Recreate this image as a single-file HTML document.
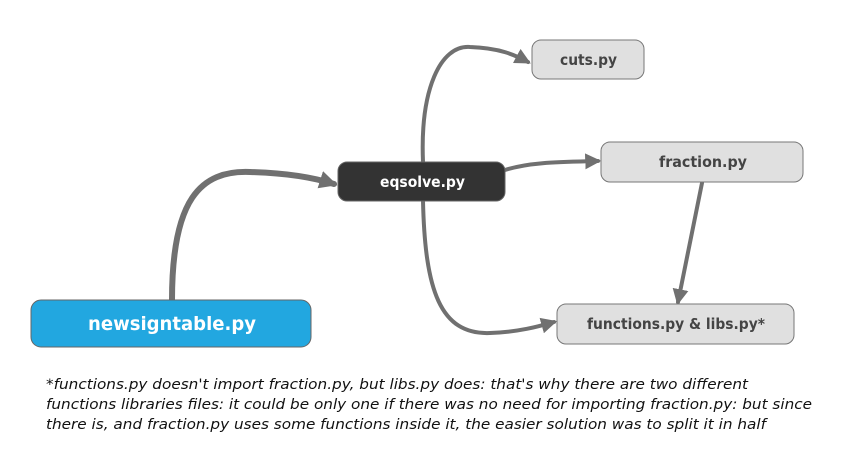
<!DOCTYPE html>
<html><head><meta charset="utf-8"><style>
body{margin:0;background:#fff;}
svg{display:block;}
.t{font-family:"DejaVu Sans","Liberation Sans",sans-serif;font-weight:bold;}
.n{font-family:"DejaVu Sans","Liberation Sans",sans-serif;font-style:italic;font-size:14.5px;fill:#111;}
</style></head><body>
<svg width="846" height="450" viewBox="0 0 846 450" xmlns="http://www.w3.org/2000/svg">
<defs>
<marker id="a" viewBox="0 0 10 10" refX="8" refY="5" markerWidth="4" markerHeight="4" orient="auto" markerUnits="strokeWidth"><path d="M0,0 L10,5 L0,10 z" fill="#707070"/></marker>
<marker id="b" viewBox="0 0 10 10" refX="8" refY="5" markerWidth="3" markerHeight="3" orient="auto" markerUnits="strokeWidth"><path d="M0,0 L10,5 L0,10 z" fill="#707070"/></marker>
</defs>
<g fill="none" stroke="#707070" stroke-linecap="round">
<path d="M172,300 C172,200 200,170 250,172 C290,173 315,178 334,184" stroke-width="6" marker-end="url(#b)"/>
<path d="M423,162 C420,90 440,45 470,47 C500,48 515,55 528,62" stroke-width="4" marker-end="url(#a)"/>
<path d="M423,201 C425,290 440,335 490,333 C520,332 540,326 554,322" stroke-width="4" marker-end="url(#a)"/>
<path d="M505,170 C530,162 560,162 598,161" stroke-width="4" marker-end="url(#a)"/>
<path d="M702,183 L678,302" stroke-width="4" marker-end="url(#a)"/>
</g>
<rect x="532" y="40" width="112" height="39" rx="9" fill="#e0e0e0" stroke="#777"/>
<text class="t" x="560" y="65" font-size="15" fill="#444" textLength="57" lengthAdjust="spacingAndGlyphs">cuts.py</text>
<rect x="601" y="142" width="202" height="40" rx="9" fill="#e0e0e0" stroke="#777"/>
<text class="t" x="659" y="167" font-size="15" fill="#444" textLength="88" lengthAdjust="spacingAndGlyphs">fraction.py</text>
<rect x="557" y="304" width="237" height="40" rx="9" fill="#e0e0e0" stroke="#777"/>
<text class="t" x="587" y="329" font-size="15" fill="#444" textLength="178" lengthAdjust="spacingAndGlyphs">functions.py &amp; libs.py*</text>
<rect x="338" y="162" width="167" height="39" rx="9" fill="#333" stroke="#666"/>
<text class="t" x="380" y="187" font-size="15" fill="#fff" textLength="85" lengthAdjust="spacingAndGlyphs">eqsolve.py</text>
<rect x="31" y="300" width="280" height="47" rx="10" fill="#22a7e0" stroke="#666"/>
<text class="t" x="88" y="330" font-size="19" fill="#fff" textLength="168" lengthAdjust="spacingAndGlyphs">newsigntable.py</text>
<text class="n" x="46" y="389" textLength="702" lengthAdjust="spacingAndGlyphs">*functions.py doesn't import fraction.py, but libs.py does: that's why there are two different</text>
<text class="n" x="46" y="409" textLength="766" lengthAdjust="spacingAndGlyphs">functions libraries files: it could be only one if there was no need for importing fraction.py: but since</text>
<text class="n" x="46" y="429" textLength="720" lengthAdjust="spacingAndGlyphs">there is, and fraction.py uses some functions inside it, the easier solution was to split it in half</text>
</svg>
</body></html>
